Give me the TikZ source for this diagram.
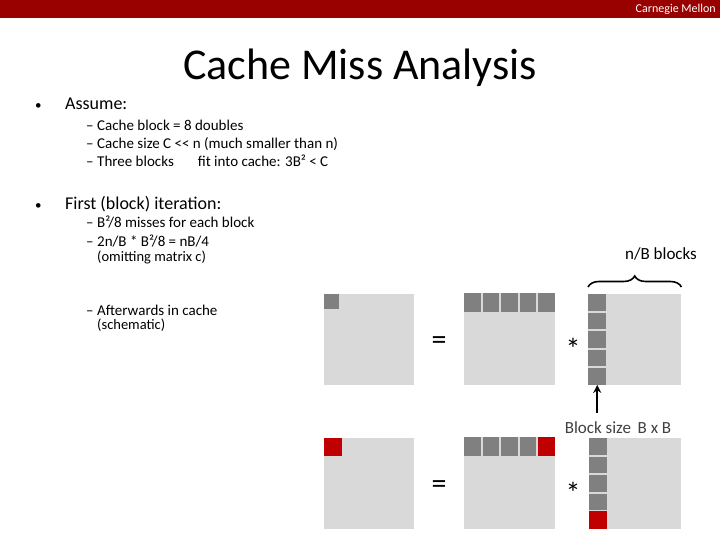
\documentclass[tikz,border=0pt]{standalone}
\usepackage{fontspec}
\setmainfont{Carlito}
\usetikzlibrary{arrows.meta,decorations.pathreplacing}
\definecolor{cmured}{RGB}{153,0,0}
\definecolor{matgrey}{RGB}{217,217,217}
\definecolor{blkgrey}{RGB}{128,128,128}
\definecolor{hitred}{RGB}{192,0,0}
\definecolor{labgrey}{RGB}{64,64,64}

\begin{document}
\begin{tikzpicture}[x=1pt,y=-1pt,>=Stealth,
  mat/.style={fill=matgrey,inner sep=0,anchor=north west},
  blk/.style={fill=blkgrey,inner sep=0,anchor=north west},
  txt/.style={anchor=west,inner sep=0,text height=11pt,text depth=3pt,font=\fontsize{15}{17}\selectfont},
  head/.style={anchor=west,inner sep=0,text height=13pt,text depth=4pt,font=\fontsize{18}{20}\selectfont},
  small/.style={anchor=west,inner sep=0,text height=10pt,text depth=3pt,font=\fontsize{14.5}{16}\selectfont},
  op/.style={inner sep=0,font=\fontsize{30}{32}\selectfont}]
\useasboundingbox (0,0) rectangle (720,540);
% header bar and title
\fill[cmured] (0,0) rectangle (720,18);
\node[anchor=east,inner sep=0,text=white,font=\fontsize{12}{14}\selectfont] (cmu) at (716,9) {Carnegie Mellon};
\node[inner sep=0,font=\fontsize{44}{50}\selectfont] (title) at (360,68) {Cache Miss Analysis};
% bullets
\node[head,font=\fontsize{13}{15}\selectfont] (b1) at (35,105) {•};
\node[head] (assume) at (65,105) {Assume:};
\node[txt] (d1) at (86,127) {–}; \node[txt] (a1) at (97,127) {Cache block = 8 doubles};
\node[txt] (d2) at (86,145) {–}; \node[txt] (a2) at (97,145) {Cache size C {<}{<} n (much smaller than n)};
\node[txt] (d3) at (86,163) {–}; \node[txt] (a3) at (97,163) {Three blocks\hspace{24pt}fit into cache: 3B² < C};
\node[head,font=\fontsize{13}{15}\selectfont] (b2) at (35,205) {•};
\node[head] (first) at (65,205) {First (block) iteration:};
\node[txt] (d4) at (86,224) {–}; \node[txt] (f1) at (97,224) {B²/8 misses for each block};
\node[txt] (d5) at (86,242) {–}; \node[txt] (f2) at (97,242) {2n/B * B²/8 = nB/4};
\node[small] (f3) at (97,258) {(omitting matrix c)};
\node[txt] (d6) at (86,311) {–}; \node[txt] (f4) at (97,311) {Afterwards in cache};
\node[small] (f5) at (97,326) {(schematic)};
% first row: after first iteration
\node[mat,minimum width=90pt,minimum height=91pt] (C1) at (324,294) {};
\node[blk,minimum size=15pt] (c1) at (324,294) {};
\node[op] (eq1) at (439,343) {=};
\node[mat,minimum width=91pt,minimum height=92pt] (A1) at (464,293) {};
\foreach \i in {0,...,4}
  \node[blk,minimum width=16.5pt,minimum height=19pt] (a1\i) at (464+18.5*\i,293) {};
\node[op] (st1) at (573,349) {*};
\node[mat,minimum width=93pt,minimum height=91pt] (B1) at (588,294) {};
\foreach \i in {0,...,4}
  \node[blk,minimum width=18pt,minimum height=16.5pt] (b1\i) at (588,294+18.5*\i) {};
\draw[decorate,decoration={brace,amplitude=11pt},line width=1.6pt] (B1.south west |- 0,287) -- (B1.south east |- 0,287);
\node[inner sep=0,font=\fontsize{17}{19}\selectfont] (nb) at (661,254) {n/B blocks};
% second row: next iteration
\node[mat,minimum width=90pt,minimum height=91pt] (C2) at (324,438) {};
\node[blk,fill=hitred,minimum size=18pt] (c2) at (324,438) {};
\node[op] (eq2) at (439,487) {=};
\node[mat,minimum width=91pt,minimum height=92pt] (A2) at (464,437) {};
\foreach \i in {0,...,3}
  \node[blk,minimum width=16.5pt,minimum height=19pt] (a2\i) at (464+18.5*\i,437) {};
\node[blk,fill=hitred,minimum width=17pt,minimum height=19pt] (a24) at (538,437) {};
\node[op] (st2) at (573,493) {*};
\node[mat,minimum width=92pt,minimum height=91pt] (B2) at (589,438) {};
\foreach \i in {0,...,3}
  \node[blk,minimum width=18pt,minimum height=16.5pt] (b2\i) at (589,438+18.5*\i) {};
\node[blk,fill=hitred,minimum width=18pt,minimum height=18pt] (b24) at (589,511) {};
% block size label
\node[inner sep=0,text=labgrey,font=\fontsize{17}{19}\selectfont] (bs) at (618,428) {Block size\, B x B};
\coordinate (bsarr) at (b14.south |- 0,413);
\draw[->,line width=1.6pt,>={Stealth[length=8pt,width=8pt]}] (bsarr) -- (b14.south);
\end{tikzpicture}
\end{document}
